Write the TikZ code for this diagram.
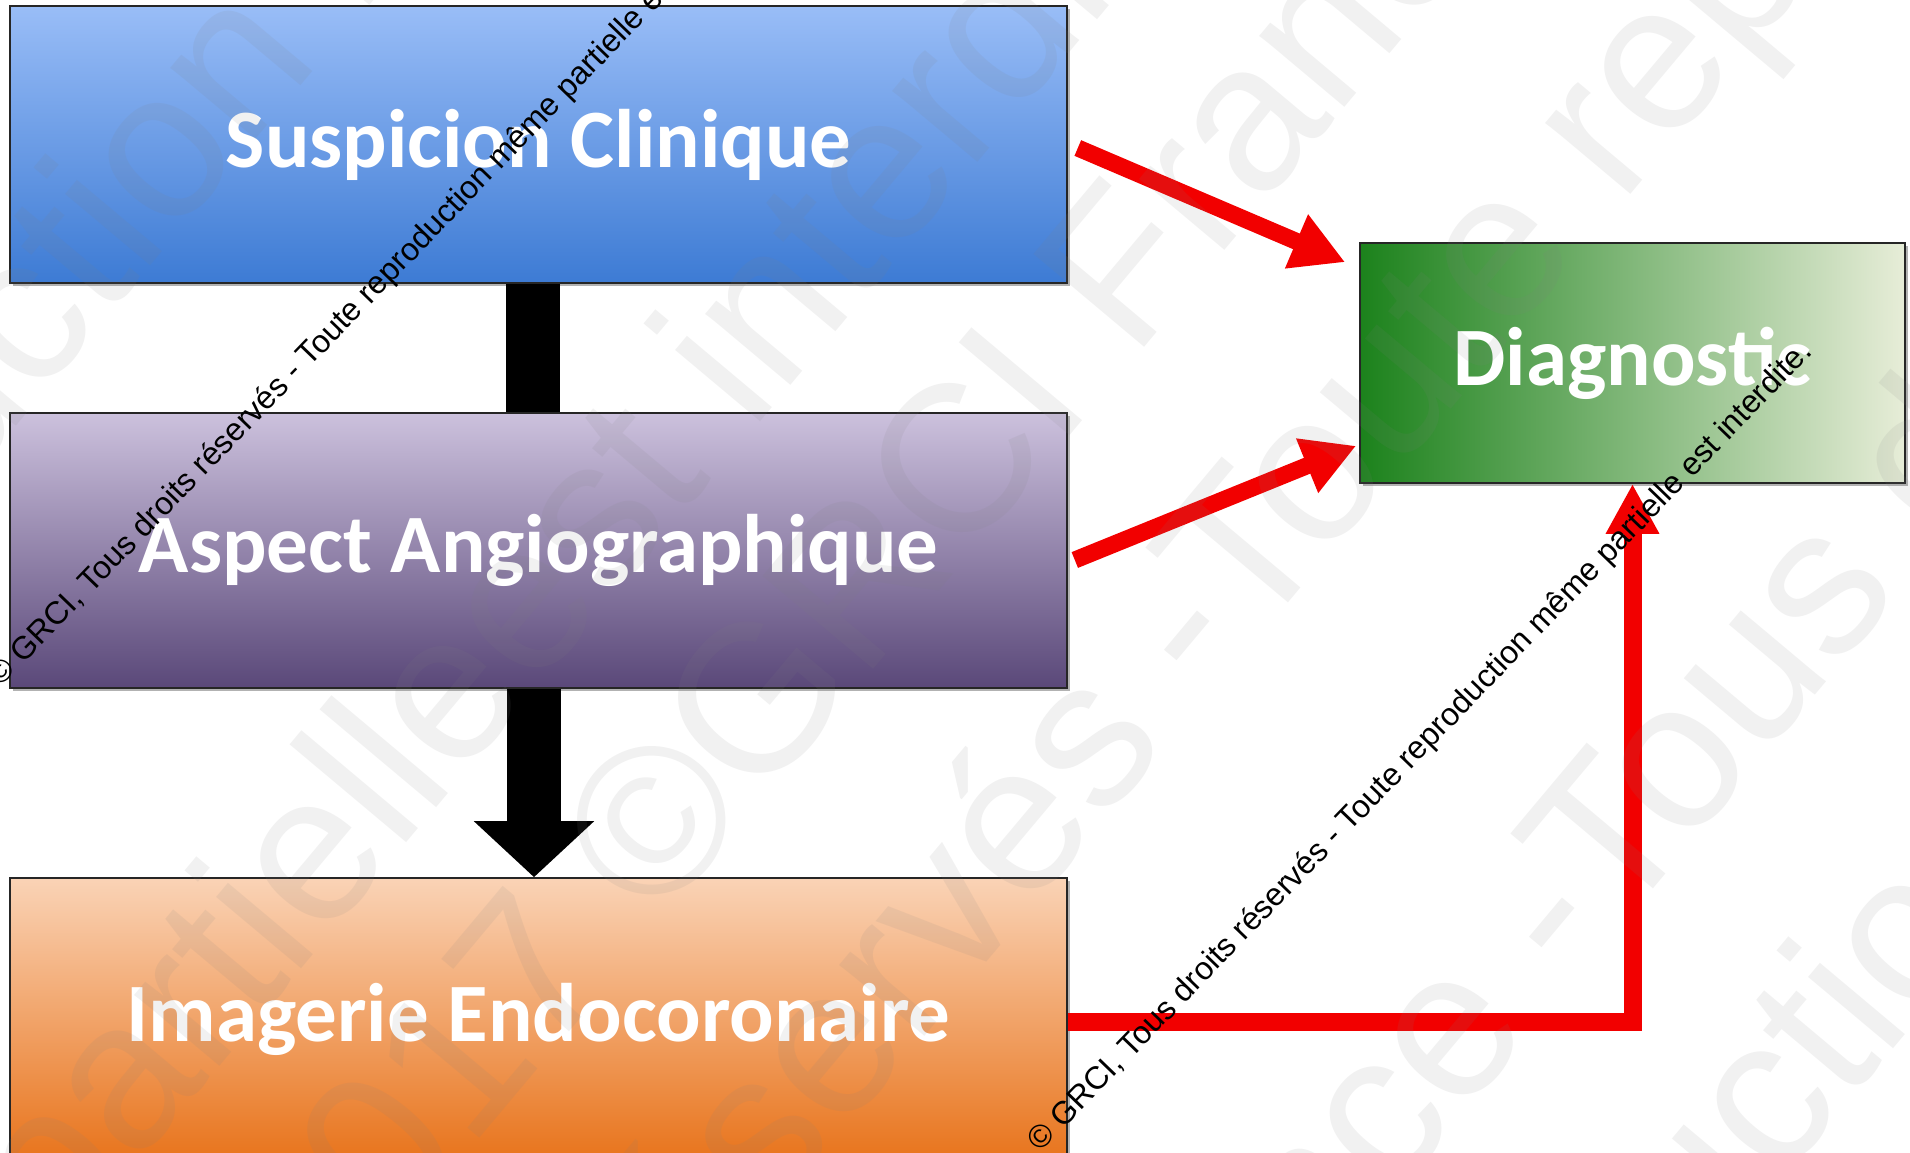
\documentclass[tikz,border=0pt]{standalone}
\usepackage{fontspec}
\setmainfont{Carlito}
\newfontfamily\wmfont{Liberation Sans}
\usetikzlibrary{arrows.meta,shadows,calc}
\definecolor{sTop}{HTML}{99BDF7}
\definecolor{sBot}{HTML}{3D7BD4}
\definecolor{aTop}{HTML}{CCC1DD}
\definecolor{aBot}{HTML}{5A4879}
\definecolor{iTop}{HTML}{FAD3B6}
\definecolor{iBot}{HTML}{E8741C}
\definecolor{dLeft}{HTML}{1C821C}
\definecolor{dMid}{HTML}{97B587}
\definecolor{dRight}{HTML}{E7EDD8}
\definecolor{arrowred}{RGB}{242,0,0}
\begin{document}
\begin{tikzpicture}[x=0.5pt,y=-0.5pt,
  box/.style={draw=black!85, line width=0.8pt, inner sep=0pt, text=white,
    font=\fontsize{41.5pt}{48pt}\selectfont\bfseries,
    drop shadow={shadow xshift=1.5pt, shadow yshift=-1.5pt, opacity=0.3, fill=black}},
  redarrow/.style={draw=arrowred, line width=8.5pt, -{Triangle[width=27.5pt,length=26.5pt]}},
  elbowarrow/.style={draw=arrowred, line width=9pt, -{Triangle[width=25pt,length=25pt]}},
  blackbar/.style={draw=black, line width=27pt},
  wmline/.style={font=\wmfont\fontsize{16pt}{19pt}\selectfont, text=black, inner sep=0pt, rotate=46},
  wmfaint/.style={font=\wmfont\fontsize{105pt}{120pt}\selectfont, text=gray, text opacity=0.11, inner sep=0pt, rotate=50}
]
\useasboundingbox (0,0) rectangle (1910,1152);
\fill[white] (0,0) rectangle (1910,1152);
\begin{scope}
\clip (0,0) rectangle (1910,1152);
% boxes
\node[box, minimum width=528.5pt, minimum height=138.5pt, top color=sTop, bottom color=sBot] (S) at (538.5,144.5) {Suspicion Clinique};
\node[box, minimum width=528.5pt, minimum height=137.5pt, top color=aTop, bottom color=aBot] (A) at (538.5,550.5) {Aspect Angiographique};
\node[box, minimum width=528.5pt, minimum height=141pt, top color=iTop, bottom color=iBot] (I) at (538.5,1019) {Imagerie Endocoronaire};
\node[box, minimum width=272.5pt, minimum height=120pt, left color=dLeft, middle color=dMid, right color=dRight] (D) at (1632.5,363) {Diagnostic};
% connectors
\draw[blackbar] ([xshift=-2.75pt]S.south) -- ([xshift=-2.75pt]A.north);
\draw[blackbar, -{Triangle[width=58.5pt,length=28pt]}] ([xshift=-2.25pt]A.south) -- ([xshift=-2.25pt]I.north);
\draw[redarrow] ([shift={(10,3.5)}]S.east) -- ([shift={(-14,20)}]D.north west);
\draw[redarrow] ([shift={(7,9.5)}]A.east) -- ([shift={(-3,-38)}]D.south west);
\draw[elbowarrow] ([shift={(0,3)}]I.east) -| (D.south);
% faint watermark
\node[wmfaint, anchor=center] (fA) at (122,183) {ction};
\node[wmfaint, anchor=base east] (fAl) at (fA.base west) {Toute reprodu};
\node[wmfaint, anchor=base west] (fAr) at (fA.base east) {\ même partielle};
\node[wmfaint, anchor=center] (fB) at (572,542) {est};
\node[wmfaint, anchor=base east] (fBl) at (fB.base west) {partielle\ };
\node[wmfaint, anchor=base west] (fBr) at (fB.base east) {\ interdite 2017};
\node[wmfaint, anchor=center] (fC) at (871,560) {GRCI};
\node[wmfaint, anchor=base east] (fCl) at (fC.base west) {2017 ©\ };
\node[wmfaint, anchor=base west] (fCr) at (fC.base east) {\ France - Tous};
\node[wmfaint, anchor=center] (fD) at (1364,402) {Toute};
\node[wmfaint, anchor=base east] (fDl) at (fD.base west) {réservés -\ };
\node[wmfaint, anchor=base west] (fDr) at (fD.base east) {\ reproduction};
\node[wmfaint, anchor=center] (fE) at (1706,715) {Tous};
\node[wmfaint, anchor=base east] (fEl) at (fE.base west) {France -\ };
\node[wmfaint, anchor=base west] (fEr) at (fE.base east) {\ droits};
\node[wmfaint, anchor=center] (fF) at (1827,1011) {ctio};
\node[wmfaint, anchor=base east] (fFl) at (fF.base west) {Toute reprodu};
\node[wmfaint, anchor=base west] (fFr) at (fF.base east) {n même};
% black watermark lines
\node[wmline] (wm1) at (381,282) {© GRCI, Tous droits réservés - Toute reproduction même partielle est interdite.};
\node[wmline] (wm2) at (1421,747) {© GRCI, Tous droits réservés - Toute reproduction même partielle est interdite.};
\end{scope}
\end{tikzpicture}
\end{document}
